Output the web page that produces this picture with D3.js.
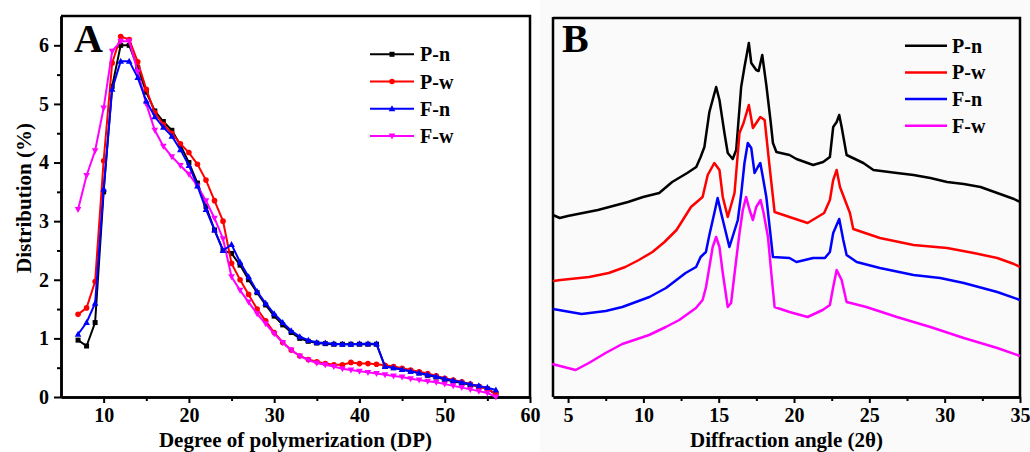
<!DOCTYPE html>
<html>
<head>
<meta charset="utf-8">
<script src="https://cdn.jsdelivr.net/npm/d3@7"></script>
<style>
    body { margin: 0; background: #fff; }
    svg text { font-family: "Liberation Serif", "Times New Roman", serif; font-weight: bold; fill: #000; }
</style>
</head>
<body>
<svg id="chart" width="1030" height="452"></svg>
<script>
// Panel A: chain length distribution
const dp = [7, 8, 9, 10, 11, 12, 13, 14, 15, 16, 17, 18, 19, 20, 21, 22, 23, 24, 25, 26, 27, 28, 29, 30, 31,
    32, 33, 34, 35, 36, 37, 38, 39, 40, 41, 42, 43, 44, 45, 46, 47, 48, 49, 50, 51, 52, 53, 54, 55, 56];
const pn = [0.97, 0.87, 1.27, 3.5, 5.3, 6.0, 6.0, 5.62, 5.2, 4.88, 4.7, 4.55, 4.3, 4.0, 3.65, 3.25, 2.85, 2.5, 2.45, 2.25,
    2.0, 1.78, 1.57, 1.38, 1.23, 1.1, 1.0, 0.95, 0.92, 0.91, 0.9, 0.9, 0.9, 0.9, 0.9, 0.9, 0.52, 0.5, 0.47, 0.44,
    0.41, 0.37, 0.34, 0.3, 0.27, 0.24, 0.21, 0.18, 0.14, 0.05];
const pw = [1.41, 1.52, 1.97, 4.03, 5.7, 6.15, 6.1, 5.72, 5.25, 4.85, 4.65, 4.5, 4.32, 4.17, 3.97, 3.7, 3.35, 3.0, 2.28, 2.0,
    1.75, 1.5, 1.3, 1.1, 0.93, 0.8, 0.7, 0.64, 0.6, 0.57, 0.55, 0.55, 0.59, 0.57, 0.57, 0.56, 0.54, 0.52, 0.49, 0.46,
    0.43, 0.4, 0.36, 0.32, 0.29, 0.26, 0.22, 0.18, 0.14, 0.05];
const fn = [1.07, 1.27, 1.6, 3.55, 5.25, 5.73, 5.73, 5.45, 5.05, 4.78, 4.6, 4.45, 4.22, 3.95, 3.6, 3.2, 2.85, 2.5, 2.6, 2.3,
    2.05, 1.8, 1.6, 1.42, 1.27, 1.13, 1.03, 0.97, 0.93, 0.92, 0.91, 0.9, 0.9, 0.91, 0.91, 0.91, 0.52, 0.5, 0.47, 0.44,
    0.41, 0.38, 0.35, 0.31, 0.28, 0.25, 0.22, 0.19, 0.16, 0.12];
const fw = [3.2, 3.78, 4.2, 4.93, 5.9, 6.07, 6.07, 5.55, 5.0, 4.55, 4.28, 4.1, 3.95, 3.8, 3.6, 3.35, 3.05, 2.7, 2.05, 1.82,
    1.62, 1.42, 1.25, 1.08, 0.93, 0.8, 0.7, 0.63, 0.58, 0.55, 0.52, 0.48, 0.46, 0.44, 0.42, 0.4, 0.38, 0.36, 0.34, 0.31,
    0.29, 0.27, 0.25, 0.22, 0.19, 0.16, 0.13, 0.1, 0.07, 0.0];

// Panel B: XRD patterns, [2theta, intensity a.u.]
const xrdPn = [[4.0, 182], [4.45, 179], [4.98, 181], [5.98, 184], [6.98, 187], [7.98, 191], [8.98, 195], [9.98, 200],
    [11.05, 204], [11.91, 215], [12.91, 224], [13.51, 230], [13.8, 240], [14.05, 250], [14.38, 285], [14.83, 310],
    [15.05, 297], [15.38, 264], [15.6, 244], [15.93, 238], [16.16, 247], [16.49, 310], [16.71, 330], [17.0, 354],
    [17.16, 334], [17.49, 327], [17.65, 326], [17.89, 342], [18.16, 312], [18.45, 275], [18.6, 254], [18.83, 245],
    [19.7, 242], [20.16, 238], [20.9, 234], [21.27, 232], [21.93, 235], [22.38, 240], [22.6, 270], [22.83, 275],
    [23.0, 282], [23.16, 270], [23.49, 242], [24.6, 234], [25.27, 227], [26.83, 224], [27.93, 222], [29.05, 219],
    [30.16, 215], [31.27, 213], [32.38, 210], [33.49, 204], [34.6, 198], [35.0, 195]];
const xrdPw = [[4.0, 116], [4.5, 117], [6.4, 120], [7.7, 124], [8.8, 130], [9.7, 137], [10.6, 145], [11.4, 155],
    [12.2, 167], [13.16, 190], [13.93, 200], [14.27, 222], [14.71, 234], [15.05, 227], [15.27, 200], [15.6, 180],
    [16.05, 204], [16.38, 264], [16.65, 274], [17.0, 292], [17.27, 269], [17.76, 280], [18.05, 277], [18.38, 230],
    [18.71, 185], [19.7, 180], [20.9, 174], [22.0, 184], [22.38, 197], [22.6, 217], [22.83, 227], [23.05, 210],
    [23.38, 197], [23.71, 184], [23.93, 168], [25.7, 159], [27.93, 152], [30.16, 149], [31.93, 144], [33.49, 139],
    [34.6, 133], [35.0, 130]];
const xrdFn = [[4.0, 88], [5.9, 83], [7.5, 86], [8.6, 90], [10.4, 100], [11.5, 109], [12.8, 124], [13.5, 130],
    [13.8, 140], [14.15, 145], [14.38, 162], [14.71, 184], [14.93, 199], [15.16, 184], [15.71, 150], [16.27, 177],
    [16.5, 204], [16.71, 234], [16.93, 254], [17.16, 249], [17.38, 224], [17.6, 230], [17.76, 234], [17.93, 220],
    [18.16, 200], [18.38, 170], [18.6, 140], [19.7, 139], [20.16, 135], [21.27, 139], [22.05, 139], [22.38, 145],
    [22.6, 164], [23.0, 178], [23.27, 157], [23.49, 142], [24.16, 135], [25.7, 129], [27.93, 122], [29.7, 119],
    [31.27, 114], [33.49, 105], [35.0, 97]];
const xrdFw = [[3.95, 33], [5.5, 27], [6.38, 34], [7.49, 44], [8.6, 53], [10.38, 62], [11.49, 70], [12.38, 77],
    [13.49, 89], [13.93, 97], [14.16, 110], [14.38, 130], [14.6, 150], [14.83, 160], [15.05, 150], [15.27, 124],
    [15.6, 90], [15.82, 94], [16.16, 137], [16.38, 164], [16.6, 187], [16.82, 200], [17.05, 187], [17.27, 177],
    [17.49, 190], [17.78, 197], [17.98, 184], [18.27, 160], [18.49, 124], [18.71, 90], [19.7, 85], [20.9, 80],
    [21.9, 87], [22.38, 92], [22.6, 110], [22.83, 127], [23.16, 117], [23.49, 95], [24.8, 90], [26.83, 80],
    [29.05, 70], [31.27, 59], [33.49, 49], [35.0, 41]];

const names = ["P-n", "P-w", "F-n", "F-w"];
const colors = ["#000000", "#ff0000", "#0000ff", "#ff00ff"];
const shapes = ["square", "circle", "up", "down"];

let svg = d3.select("#chart");

// panel B picture has a faint grey background
svg.append("rect").attr("x", 540).attr("y", 0).attr("width", 490).attr("height", 452).attr("fill", "#fafafa");

function marker(g, shape, x, y, color) {
    if (shape === "square") {
        g.append("rect").attr("x", x - 2.5).attr("y", y - 2.5).attr("width", 5).attr("height", 5).attr("fill", color);
    } else if (shape === "circle") {
        g.append("circle").attr("cx", x).attr("cy", y).attr("r", 2.8).attr("fill", color);
    } else {
        let s = shape === "up" ? 1 : -1;
        g.append("path")
            .attr("d", `M${x},${y - 3.5 * s}L${x + 3.3},${y + 2.5 * s}L${x - 3.3},${y + 2.5 * s}Z`)
            .attr("fill", color);
    }
}

function styleAxis(g, fontSize) {
    g.attr("font-family", null);
    g.select(".domain").attr("stroke-width", 2.5);
    g.selectAll(".tick line").attr("stroke-width", 2);
    g.selectAll(".tick text").attr("font-size", fontSize).attr("fill", "#000");
}

function frame(x0, x1, y0, y1) {
    svg.append("path")
        .attr("d", `M${x0},${y0}L${x1},${y0}L${x1},${y1}`)
        .attr("fill", "none").attr("stroke", "#000").attr("stroke-width", 2.5);
}

const fmt = d3.format("d");

// ---------- Panel A ----------
let xA = d3.scaleLinear().domain([5, 60]).range([61, 530]);
let yA = d3.scaleLinear().domain([0, 6.5]).range([397, 16]);

frame(61, 530, 16, 397);

let gx = svg.append("g").attr("transform", "translate(0,397)")
    .call(d3.axisBottom(xA).tickValues([10, 20, 30, 40, 50, 60]).tickFormat(fmt).tickSize(6).tickSizeOuter(0).tickPadding(5));
styleAxis(gx, 20);
svg.append("g").attr("transform", "translate(0,397)")
    .call(d3.axisBottom(xA).tickValues([15, 25, 35, 45, 55]).tickSize(4).tickSizeOuter(0).tickFormat(""))
    .call(g => styleAxis(g, 20));

let gy = svg.append("g").attr("transform", "translate(61,0)")
    .call(d3.axisLeft(yA).tickValues([0, 1, 2, 3, 4, 5, 6]).tickFormat(fmt).tickSize(7).tickSizeOuter(0).tickPadding(5));
styleAxis(gy, 20);
svg.append("g").attr("transform", "translate(61,0)")
    .call(d3.axisLeft(yA).tickValues([0.5, 1.5, 2.5, 3.5, 4.5, 5.5]).tickSize(4).tickSizeOuter(0).tickFormat(""))
    .call(g => styleAxis(g, 20));

let seriesA = [pn, pw, fw, fn];
let orderA = [0, 1, 3, 2]; // blue drawn last
let lineA = d3.line().x((d, i) => xA(dp[i])).y(d => yA(d));

orderA.forEach((k, j) => {
    let vals = seriesA[j];
    let g = svg.append("g");
    g.append("path").datum(vals)
        .attr("fill", "none").attr("stroke", colors[k]).attr("stroke-width", 2)
        .attr("d", lineA);
    vals.forEach((v, i) => marker(g, shapes[k], xA(dp[i]), yA(v), colors[k]));
});

svg.append("text").attr("x", 74).attr("y", 52).attr("font-size", 40).text("A");

svg.append("text").attr("x", xA(32.5)).attr("y", 447).attr("text-anchor", "middle").attr("font-size", 21)
    .text("Degree of polymerization (DP)");
svg.append("text").attr("transform", "translate(31,198) rotate(-90)").attr("text-anchor", "middle").attr("font-size", 21)
    .text("Distribution (%)");

// legend A
names.forEach((n, i) => {
    let y = 54.3 + i * 27.2;
    let g = svg.append("g");
    g.append("line").attr("x1", 370).attr("x2", 414).attr("y1", y).attr("y2", y)
        .attr("stroke", colors[i]).attr("stroke-width", 2);
    marker(g, shapes[i], 392, y, colors[i]);
    g.append("text").attr("x", 420).attr("y", y + 7).attr("font-size", 20).text(n);
});

// ---------- Panel B ----------
let xB = d3.scaleLinear().domain([4, 35]).range([553, 1020]);
let yB = d3.scaleLinear().domain([0, 379]).range([397, 18]);

frame(553, 1020, 18, 397);
svg.append("line").attr("x1", 553).attr("x2", 553).attr("y1", 17).attr("y2", 397)
    .attr("stroke", "#000").attr("stroke-width", 2.5);

let gxb = svg.append("g").attr("transform", "translate(0,397)")
    .call(d3.axisBottom(xB).tickValues([5, 10, 15, 20, 25, 30, 35]).tickFormat(fmt).tickSize(6).tickSizeOuter(0).tickPadding(5));
styleAxis(gxb, 20);
svg.append("g").attr("transform", "translate(0,397)")
    .call(d3.axisBottom(xB).tickValues([7.5, 12.5, 17.5, 22.5, 27.5, 32.5]).tickSize(4).tickSizeOuter(0).tickFormat(""))
    .call(g => styleAxis(g, 20));

let lineB = d3.line().x(d => xB(d[0])).y(d => yB(d[1]));
[xrdPn, xrdPw, xrdFn, xrdFw].forEach((s, i) => {
    svg.append("path").datum(s)
        .attr("fill", "none").attr("stroke", colors[i]).attr("stroke-width", 2.5)
        .attr("stroke-linejoin", "round")
        .attr("d", lineB);
});

svg.append("text").attr("x", 562).attr("y", 52).attr("font-size", 40).text("B");

svg.append("text").attr("x", xB(19.5)).attr("y", 447).attr("text-anchor", "middle").attr("font-size", 21)
    .text("Diffraction angle (2θ)");

// legend B
names.forEach((n, i) => {
    let y = 45.7 + i * 26.7;
    svg.append("line").attr("x1", 905).attr("x2", 947).attr("y1", y).attr("y2", y)
        .attr("stroke", colors[i]).attr("stroke-width", 2.5);
    svg.append("text").attr("x", 952).attr("y", y + 7).attr("font-size", 20).text(n);
});
</script>
</body>
</html>
